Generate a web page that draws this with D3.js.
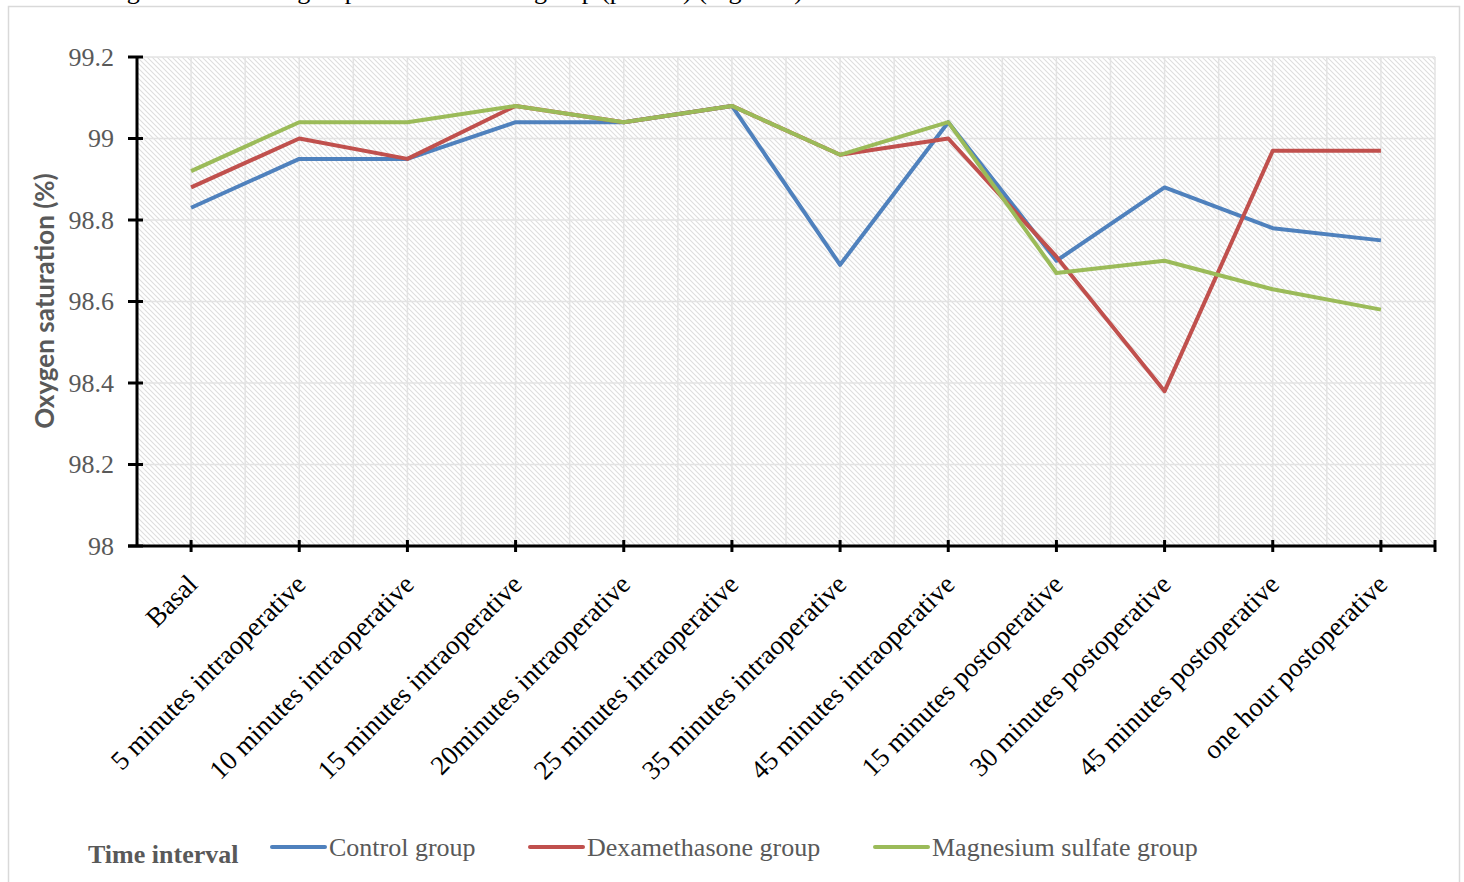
<!DOCTYPE html>
<html lang="en">
<head>
<meta charset="utf-8">
<script src="https://cdn.jsdelivr.net/npm/d3@7"></script>
<style>
  body { margin: 0; background: #fff; }
  .tick-label { font-family: "Liberation Serif", "Times New Roman", serif; font-size: 26px; fill: #595959; }
  .cat-label { font-family: "Liberation Serif", "Times New Roman", serif; font-size: 27px; fill: #000; }
  .legend-text { font-family: "Liberation Serif", "Times New Roman", serif; font-size: 26px; fill: #595959; }
  .y-title { font-family: Lato, "Liberation Sans", sans-serif; font-size: 26px; font-weight: bold; fill: #595959; }
</style>
</head>
<body>
<div id="chart"></div>
<script>
var categories = ["Basal", "5 minutes intraoperative", "10 minutes intraoperative", "15 minutes intraoperative",
  "20minutes intraoperative", "25 minutes intraoperative", "35 minutes intraoperative", "45 minutes intraoperative",
  "15 minutes postoperative", "30 minutes postoperative", "45 minutes postoperative", "one hour postoperative"];

var control = [98.83, 98.95, 98.95, 99.04, 99.04, 99.08, 98.69, 99.04, 98.70, 98.88, 98.78, 98.75];
var dexamethasone = [98.88, 99.00, 98.95, 99.08, 99.04, 99.08, 98.96, 99.00, 98.71, 98.38, 98.97, 98.97];
var magnesium = [98.92, 99.04, 99.04, 99.08, 99.04, 99.08, 98.96, 99.04, 98.67, 98.70, 98.63, 98.58];

var seriesNames = ["Control group", "Dexamethasone group", "Magnesium sulfate group"];
var seriesColors = ["#4f81bd", "#c0504d", "#9bbb59"];
var yTicks = [98, 98.2, 98.4, 98.6, 98.8, 99, 99.2];

var width = 1464, height = 882;
var plotLeft = 137, plotRight = 1435, plotTop = 57, plotBottom = 546;

var svg = d3.select("#chart").append("svg")
  .attr("width", width)
  .attr("height", height);

svg.append("rect").attr("width", width).attr("height", height).attr("fill", "#fff");

// paragraph text above the chart frame, mostly out of view
svg.append("text")
  .attr("class", "cat-label")
  .attr("x", 95).attr("y", -1)
  .style("font-size", "26px")
  .text("magnesium sulfate group than the control group (p>0.05) (Figure 6).");

// chart frame
svg.append("rect")
  .attr("x", 8.5).attr("y", 6.5)
  .attr("width", 1451).attr("height", 920)
  .attr("fill", "none")
  .attr("stroke", "#d9d9d9")
  .attr("stroke-width", 1.5);

var defs = svg.append("defs");
var pat = defs.append("pattern")
  .attr("id", "hatch")
  .attr("patternUnits", "userSpaceOnUse")
  .attr("width", 5).attr("height", 5);
pat.append("path")
  .attr("d", "M0,0 L5,5 M-1,4 L1,6 M4,-1 L6,1")
  .attr("stroke", "#dedede")
  .attr("stroke-width", 1.1);

var x = d3.scaleBand().domain(categories).range([plotLeft, plotRight]);
var y = d3.scaleLinear().domain([98, 99.2]).range([plotBottom, plotTop]);
var cx = function(c) { return x(c) + x.bandwidth() / 2; };

svg.append("rect")
  .attr("x", plotLeft).attr("y", plotTop)
  .attr("width", plotRight - plotLeft).attr("height", plotBottom - plotTop)
  .attr("fill", "url(#hatch)");

// gridlines
var half = x.bandwidth() / 2;
var vGrid = d3.range(0, categories.length * 2 + 1).map(function(i) { return plotLeft + i * half; });
svg.append("g").selectAll("line").data(vGrid).enter().append("line")
  .attr("x1", function(d) { return d; }).attr("x2", function(d) { return d; })
  .attr("y1", plotTop).attr("y2", plotBottom)
  .attr("stroke", "#e3e3e3").attr("stroke-width", 1.5);
svg.append("g").selectAll("line").data(yTicks).enter().append("line")
  .attr("x1", plotLeft).attr("x2", plotRight)
  .attr("y1", function(d) { return y(d); }).attr("y2", function(d) { return y(d); })
  .attr("stroke", "#e3e3e3").attr("stroke-width", 1.5);

// series lines
var allSeries = [control, dexamethasone, magnesium];
var line = d3.line()
  .x(function(d, i) { return cx(categories[i]); })
  .y(function(d) { return y(d); });

allSeries.forEach(function(s, i) {
  svg.append("path")
    .datum(s)
    .attr("d", line)
    .attr("fill", "none")
    .attr("stroke", seriesColors[i])
    .attr("stroke-width", 4)
    .attr("stroke-linejoin", "round");
});

// y axis
var yAxis = svg.append("g");
yAxis.append("line")
  .attr("x1", plotLeft).attr("x2", plotLeft).attr("y1", plotTop).attr("y2", plotBottom)
  .attr("stroke", "#000").attr("stroke-width", 3);
yAxis.selectAll(".yt").data(yTicks).enter().append("line")
  .attr("x1", plotLeft - 9).attr("x2", plotLeft + 6)
  .attr("y1", function(d) { return y(d); }).attr("y2", function(d) { return y(d); })
  .attr("stroke", "#000").attr("stroke-width", 3);
yAxis.selectAll("text").data(yTicks).enter().append("text")
  .attr("class", "tick-label")
  .attr("x", 114)
  .attr("y", function(d) { return y(d); })
  .attr("dy", "0.33em")
  .attr("text-anchor", "end")
  .text(function(d) { return d3.format("")(d); });

// x axis
var xAxis = svg.append("g");
xAxis.append("line")
  .attr("x1", plotLeft - 9).attr("x2", plotRight).attr("y1", plotBottom).attr("y2", plotBottom)
  .attr("stroke", "#000").attr("stroke-width", 3);
var xTickPos = categories.map(cx).concat([plotRight]);
xAxis.selectAll(".xt").data(xTickPos).enter().append("line")
  .attr("x1", function(d) { return d; }).attr("x2", function(d) { return d; })
  .attr("y1", plotBottom - 6).attr("y2", plotBottom + 6)
  .attr("stroke", "#000").attr("stroke-width", 3);
xAxis.selectAll("text").data(categories).enter().append("text")
  .attr("class", "cat-label")
  .attr("text-anchor", "end")
  .attr("transform", function(d) { return "translate(" + (cx(d) + 8) + "," + (plotBottom + 40) + ") rotate(-45)"; })
  .text(function(d) { return d; });

// y title
svg.append("text")
  .attr("class", "y-title")
  .attr("text-anchor", "middle")
  .attr("transform", "translate(54,301) rotate(-90)")
  .text("Oxygen saturation (%)");

// legend
svg.append("text")
  .attr("class", "legend-text")
  .attr("x", 88).attr("y", 863)
  .style("font-weight", "bold")
  .text("Time interval");

var legendX = [272, 530, 875];
var lg = svg.selectAll(".legend").data(seriesNames).enter().append("g")
  .attr("transform", function(d, i) { return "translate(" + legendX[i] + ",847)"; });
lg.append("line")
  .attr("x1", 0).attr("x2", 53)
  .attr("stroke", function(d, i) { return seriesColors[i]; })
  .attr("stroke-width", 4)
  .attr("stroke-linecap", "round");
lg.append("text")
  .attr("class", "legend-text")
  .attr("x", 57).attr("y", 9)
  .text(function(d) { return d; });
</script>
</body>
</html>
